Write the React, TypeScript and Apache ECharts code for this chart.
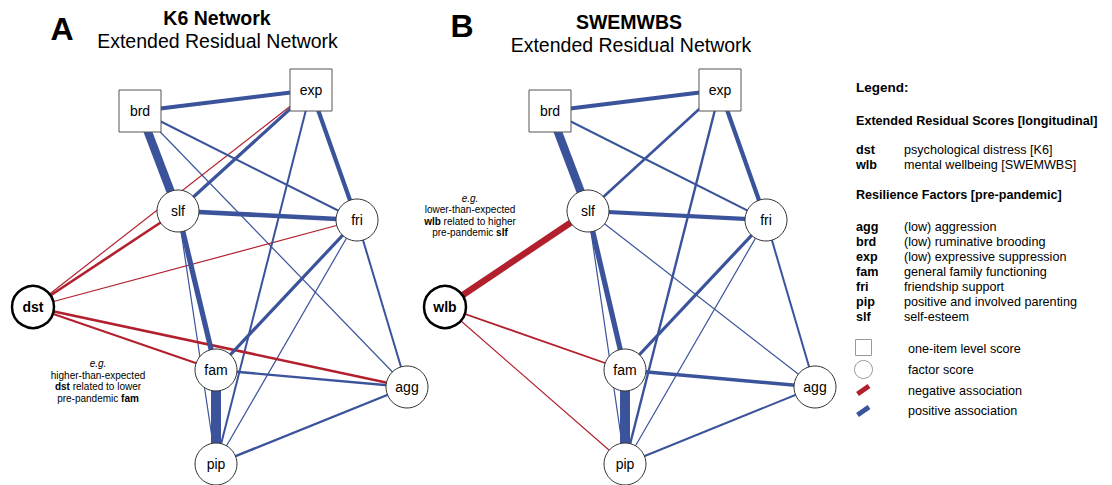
import React, { useEffect, useRef } from "react";
import * as echarts from "echarts";

// Resilience factors (pre-pandemic) and extended residual scores
const factorNodes = ["brd", "exp", "slf", "fri", "fam", "agg", "pip"];
const oneItemNodes = ["brd", "exp"];
const residualA = "dst";
const residualB = "wlb";

// Regularised partial correlations: [node, node, weight]
const k6Edges: [string, string, number][] = [
  ["brd", "exp", 0.21],
  ["brd", "slf", 0.42],
  ["brd", "fri", 0.1],
  ["brd", "agg", 0.06],
  ["exp", "slf", 0.16],
  ["exp", "fri", 0.21],
  ["exp", "pip", 0.1],
  ["slf", "fri", 0.23],
  ["slf", "fam", 0.26],
  ["slf", "pip", 0.06],
  ["fri", "fam", 0.16],
  ["fri", "pip", 0.06],
  ["fri", "agg", 0.1],
  ["fam", "agg", 0.12],
  ["fam", "pip", 0.5],
  ["pip", "agg", 0.12],
  ["dst", "slf", -0.13],
  ["dst", "exp", -0.06],
  ["dst", "fri", -0.06],
  ["dst", "fam", -0.1],
  ["dst", "agg", -0.13],
];

const swemwbsEdges: [string, string, number][] = [
  ["brd", "exp", 0.19],
  ["brd", "slf", 0.42],
  ["brd", "fri", 0.1],
  ["exp", "slf", 0.13],
  ["exp", "fri", 0.21],
  ["exp", "pip", 0.12],
  ["slf", "fri", 0.21],
  ["slf", "fam", 0.26],
  ["slf", "pip", 0.06],
  ["slf", "agg", 0.06],
  ["fri", "fam", 0.16],
  ["fri", "pip", 0.06],
  ["fri", "agg", 0.1],
  ["fam", "agg", 0.17],
  ["fam", "pip", 0.5],
  ["pip", "agg", 0.1],
  ["wlb", "slf", -0.32],
  ["wlb", "fam", -0.09],
  ["wlb", "pip", -0.06],
];

// Legend entries
const scoreCodes = ["dst", "wlb"];
const scoreLabels = ["psychological distress [K6]", "mental wellbeing [SWEMWBS]"];
const factorCodes = ["agg", "brd", "exp", "fam", "fri", "pip", "slf"];
const factorLabels = [
  "(low) aggression",
  "(low) ruminative brooding",
  "(low) expressive suppression",
  "general family functioning",
  "friendship support",
  "positive and involved parenting",
  "self-esteem",
];

// Node placement (pixels) for each panel
const layoutA: Record<string, [number, number]> = {
  brd: [140, 111],
  exp: [311, 90],
  slf: [178, 211],
  fri: [357, 220],
  dst: [33, 307],
  fam: [216, 370],
  agg: [407, 387],
  pip: [216, 464],
};
const layoutB: Record<string, [number, number]> = {
  brd: [550, 111],
  exp: [720, 90],
  slf: [588, 211],
  fri: [766, 220],
  wlb: [445, 307],
  fam: [625, 370],
  agg: [815, 387],
  pip: [625, 464],
};

const W = 1112;
const H = 485;
const FONT = "Liberation Sans";
const BLUE = "#3a539b";
const RED = "#b2202e";
const EDGE_SCALE = 20;
const NODE_SIZE = 42;
const BODY = 12.6;
const NOTE = 10;

function buildGraph(
  layout: Record<string, [number, number]>,
  residual: string,
  edges: [string, string, number][]
) {
  const names = [...factorNodes, residual];
  const data = names.map((n) => {
    const isSquare = oneItemNodes.includes(n);
    const isResidual = n === residual;
    return {
      name: n,
      value: layout[n],
      symbol: isSquare ? "rect" : "circle",
      symbolSize: NODE_SIZE,
      itemStyle: {
        color: "#ffffff",
        borderColor: isResidual ? "#000000" : isSquare ? "#555555" : "#333333",
        borderWidth: isResidual ? 2.5 : 1,
      },
      label: {
        show: true,
        position: "inside",
        color: "#000000",
        fontFamily: FONT,
        fontSize: 14,
        fontWeight: isResidual ? "bold" : "normal",
        formatter: n,
      },
    };
  });
  const links = [...edges]
    .sort((a, b) => Math.abs(a[2]) - Math.abs(b[2]))
    .map(([s, t, w]) => ({
      source: s,
      target: t,
      lineStyle: {
        width: Math.abs(w) * EDGE_SCALE,
        color: w < 0 ? RED : BLUE,
        opacity: 1,
        curveness: 0,
      },
    }));
  return {
    type: "graph",
    coordinateSystem: "cartesian2d",
    xAxisIndex: 0,
    yAxisIndex: 0,
    silent: true,
    roam: false,
    data,
    links,
    lineStyle: { opacity: 1, curveness: 0 },
    emphasis: { disabled: true },
  };
}

function txt(
  x: number,
  y: number,
  text: string,
  size: number,
  opts: Record<string, any> = {}
) {
  return {
    type: "text",
    x,
    y,
    silent: true,
    style: {
      text,
      fontFamily: FONT,
      fontSize: size,
      fill: "#000000",
      align: opts.align || "left",
      verticalAlign: "middle",
      fontWeight: opts.bold ? "bold" : "normal",
      fontStyle: opts.italic ? "italic" : "normal",
      rich: opts.rich,
    },
  };
}

function buildGraphics() {
  const g: any[] = [];
  const boldRich = {
    b: { fontFamily: FONT, fontSize: NOTE, fontWeight: "bold", fill: "#000" },
    n: { fontFamily: FONT, fontSize: NOTE, fill: "#000" },
  };
  // Panel headers
  g.push(txt(62, 29, "A", 32, { bold: true, align: "center" }));
  g.push(txt(217, 18, "K6 Network", 19.5, { bold: true, align: "center" }));
  g.push(txt(217.5, 41, "Extended Residual Network", 19.5, { align: "center" }));
  g.push(txt(462, 26, "B", 32, { bold: true, align: "center" }));
  g.push(txt(629, 22, "SWEMWBS", 19.5, { bold: true, align: "center" }));
  g.push(txt(631, 45, "Extended Residual Network", 19.5, { align: "center" }));

  // Panel A annotation
  g.push(txt(98, 363, "e.g.", NOTE, { italic: true, align: "center" }));
  g.push(txt(98, 375, "higher-than-expected", NOTE, { align: "center" }));
  g.push(
    txt(98, 386.5, "{b|dst}{n| related to lower}", NOTE, { align: "center", rich: boldRich })
  );
  g.push(
    txt(98, 398, "{n|pre-pandemic }{b|fam}", NOTE, { align: "center", rich: boldRich })
  );

  // Panel B annotation
  g.push(txt(470, 198, "e.g.", NOTE, { italic: true, align: "center" }));
  g.push(txt(470, 209.5, "lower-than-expected", NOTE, { align: "center" }));
  g.push(
    txt(470, 221, "{b|wlb}{n| related to higher}", NOTE, { align: "center", rich: boldRich })
  );
  g.push(
    txt(470, 232.5, "{n|pre-pandemic }{b|slf}", NOTE, { align: "center", rich: boldRich })
  );

  // Legend
  const lx = 856;
  const dx = 904;
  g.push(txt(lx, 87, "Legend:", 13.5, { bold: true }));
  g.push(txt(lx, 120.5, "Extended Residual Scores [longitudinal]", BODY, { bold: true }));
  scoreCodes.forEach((c, i) => {
    const y = 150 + i * 15;
    g.push(txt(lx, y, c, BODY, { bold: true }));
    g.push(txt(dx, y, scoreLabels[i], BODY));
  });
  g.push(txt(lx, 195, "Resilience Factors [pre-pandemic]", BODY, { bold: true }));
  factorCodes.forEach((c, i) => {
    const y = 227 + i * 15;
    g.push(txt(lx, y, c, BODY, { bold: true }));
    g.push(txt(dx, y, factorLabels[i], BODY));
  });

  // Symbol key
  g.push({
    type: "rect",
    silent: true,
    shape: { x: 855.5, y: 339.5, width: 16, height: 16 },
    style: { fill: "#ffffff", stroke: "#999999", lineWidth: 1 },
  });
  g.push({
    type: "circle",
    silent: true,
    shape: { cx: 863.5, cy: 369.5, r: 9 },
    style: { fill: "#ffffff", stroke: "#999999", lineWidth: 1 },
  });
  g.push({
    type: "line",
    silent: true,
    shape: { x1: 857.5, y1: 394, x2: 869, y2: 386 },
    style: { stroke: RED, lineWidth: 5, lineCap: "butt" },
  });
  g.push({
    type: "line",
    silent: true,
    shape: { x1: 857.5, y1: 415, x2: 869, y2: 407 },
    style: { stroke: BLUE, lineWidth: 5, lineCap: "butt" },
  });
  g.push(txt(908, 349, "one-item level score", BODY));
  g.push(txt(908, 370, "factor score", BODY));
  g.push(txt(908, 390.5, "negative association", BODY));
  g.push(txt(908, 411, "positive association", BODY));
  return g;
}

export default function App() {
  const ref = useRef<HTMLDivElement>(null);
  useEffect(() => {
    if (!ref.current) return;
    const chart = echarts.init(ref.current, undefined, { renderer: "svg" });
    chart.setOption({
      animation: false,
      backgroundColor: "#ffffff",
      grid: { left: 0, right: 0, top: 0, bottom: 0, containLabel: false },
      xAxis: { type: "value", min: 0, max: W, show: false },
      yAxis: { type: "value", min: 0, max: H, inverse: true, show: false },
      series: [
        buildGraph(layoutA, residualA, k6Edges),
        buildGraph(layoutB, residualB, swemwbsEdges),
      ],
      graphic: buildGraphics(),
    });
    return () => chart.dispose();
  }, []);
  return (
    <div
      ref={ref}
      style={{ position: "fixed", left: 0, top: 0, width: W, height: H }}
    />
  );
}
